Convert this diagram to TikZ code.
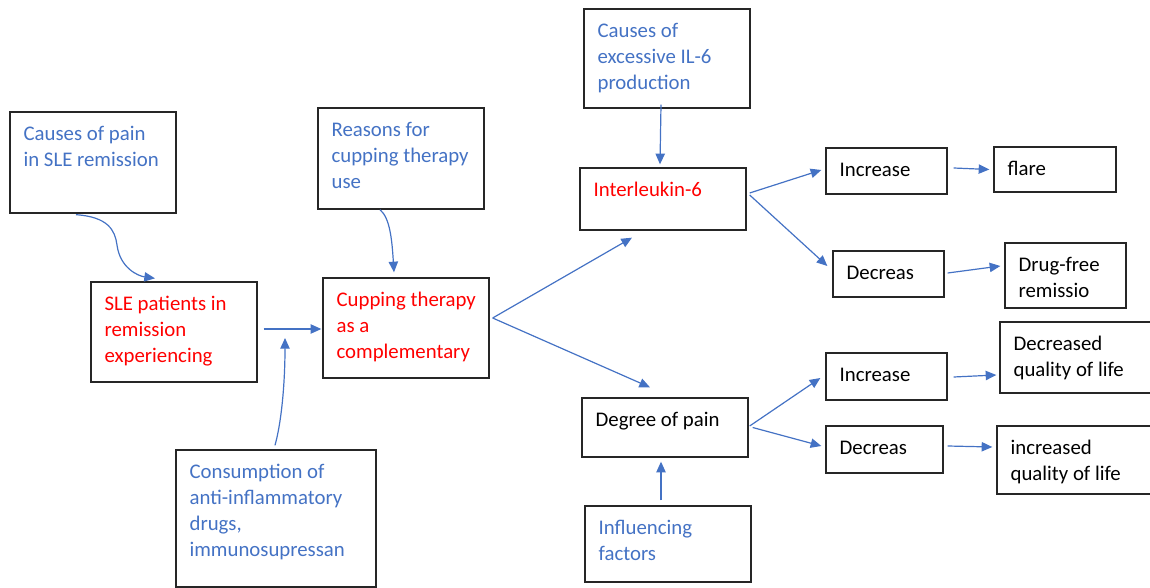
\documentclass[tikz,border=0pt]{standalone}
\usepackage{fontspec}
\setmainfont{Carlito}
\usetikzlibrary{arrows.meta,fit,calc}
\definecolor{ablue}{HTML}{4472C4}
\definecolor{ared}{HTML}{FF0000}
\tikzset{
 box/.style={draw=black!85, line width=1pt, inner sep=0pt},
 txt/.style={inner sep=0pt, anchor=north west, align=left, font=\fontsize{15.6}{19.5}\selectfont},
 conn/.style={draw=ablue, line width=0.9pt, -{Triangle[length=8pt,width=7pt]}},
}
\newcommand\mybox[7]{%
 \node[box, fit={(#2,#3)(#4,#5)}] (#1) {};
 \node[txt, text=#6] (#1-t) at ([xshift=10.5pt,yshift=-7.9pt]#1.north west) {\strut #7};}
\begin{document}
\begin{tikzpicture}[x=0.75pt,y=-0.75pt]
\useasboundingbox (0,0) rectangle (1150,588);
\clip (0,0) rectangle (1150,588);
\mybox{c1}{10}{112}{176}{213}{ablue}{Causes of pain\\in SLE remission}
\mybox{sle}{91}{282}{257}{382}{ared}{SLE patients in\\remission\\experiencing}
\mybox{rea}{318}{108}{484}{209}{ablue}{Reasons for\\cupping therapy\\use}
\mybox{cup}{323}{278}{489}{378}{ared}{Cupping therapy\\as a\\complementary}
\mybox{cons}{176}{450}{376}{587}{ablue}{Consumption of\\anti-inflammatory\\drugs,\\immunosupressan}
\mybox{cil}{584}{9}{750}{108}{ablue}{Causes of\\excessive IL-6\\production}
\mybox{il}{580}{168}{746}{230}{ared}{Interleukin-6}
\mybox{deg}{582}{398}{748}{457}{black}{Degree of pain}
\mybox{inf}{585}{506}{751}{582}{ablue}{Influencing\\factors}
\mybox{inc1}{826}{148}{947}{194}{black}{Increase}
\mybox{dec1}{833}{251}{944}{297}{black}{Decreas}
\mybox{flare}{994}{147}{1116}{192}{black}{flare}
\mybox{dfr}{1005}{243}{1126}{308}{black}{Drug-free\\remissio}
\mybox{inc2}{826}{353}{947}{400}{black}{Increase}
\mybox{dec2}{826}{426}{943}{473}{black}{Decreas}
\mybox{dql}{1000}{322}{1160}{393}{black}{Decreased\\quality of life}
\mybox{iql}{997}{426}{1160}{494}{black}{increased\\quality of life}
\coordinate (consend) at (285,338);
% connectors
\draw[conn] ([shift={(-17,1)}]c1.south) .. controls (108,217) and (115,230) .. (117,245)
  .. controls (120,268) and (138,276) .. ([shift={(-19,-3)}]sle.north);
\draw[conn] ([shift={(6,-3)}]sle.east) -- ([shift={(-1,1)}]cup.west);
\draw[conn] ([shift={(-1,-4)}]cons.north) .. controls (282,420) and (285,380) .. (consend);
\draw[conn] ([shift={(-21,0)}]rea.south) .. controls (390,218) and (392,240) .. ([shift={(-12,-5)}]cup.north);
\draw[conn] ([shift={(3,-10)}]cup.east) -- ([shift={(-31,7)}]il.south);
\draw[conn] ([shift={(3,-10)}]cup.east) -- ([shift={(-15,-10)}]deg.north);
\draw[conn] ([shift={(-6,-4)}]cil.south) -- ([shift={(-3,-3)}]il.north);
\draw[conn] ([shift={(3,-6)}]il.east) -- ([shift={(-4,-1)}]inc1.west);
\draw[conn] ([shift={(3,-4)}]il.east) -- ([shift={(-5,-8)}]dec1.west);
\draw[conn] ([shift={(6,-3)}]inc1.east) -- ([shift={(-4,0)}]flare.west);
\draw[conn] ([shift={(3,-1)}]dec1.east) -- ([shift={(-4,-9.5)}]dfr.west);
\draw[conn] ([shift={(1,-1.5)}]deg.east) -- ([shift={(-5,1.5)}]inc2.west);
\draw[conn] ([shift={(4,0)}]deg.east) -- ([shift={(-4,-3.5)}]dec2.west);
\draw[conn] ([shift={(6,0.5)}]inc2.east) -- ([shift={(-3,17.5)}]dql.west);
\draw[conn] ([shift={(4,-3.5)}]dec2.east) -- ([shift={(-4,-13)}]iql.west);
\draw[conn] ([shift={(-7,-5)}]inf.north) -- ([shift={(-4,4)}]deg.south);
\end{tikzpicture}
\end{document}
